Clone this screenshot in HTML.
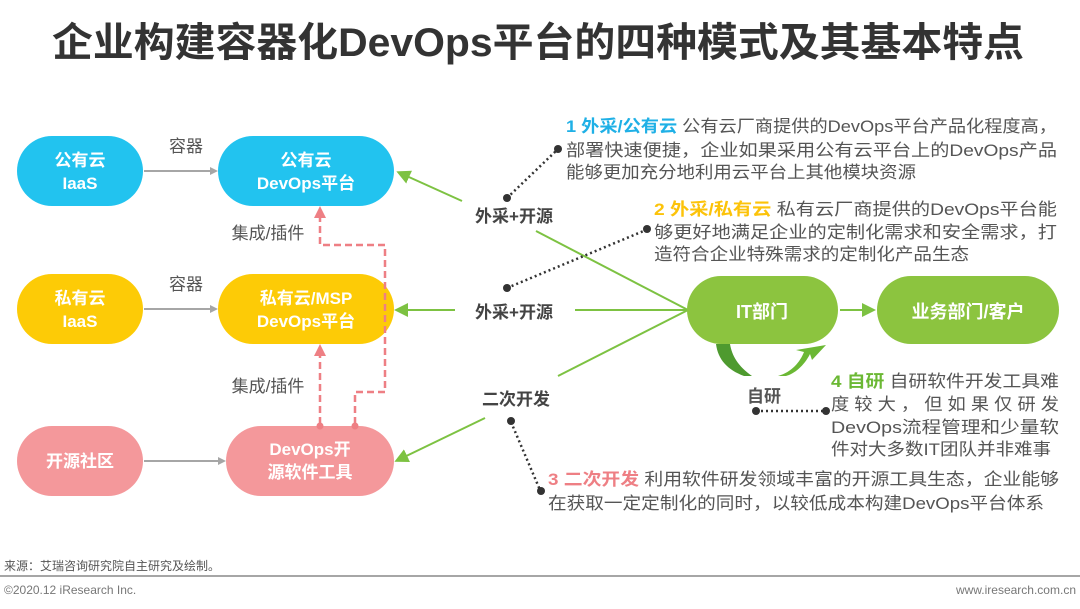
<!DOCTYPE html>
<html><head><meta charset="utf-8">
<style>
html,body{margin:0;padding:0;background:#fff;}
svg{display:block;}
text{font-family:"Liberation Sans","Noto Sans CJK SC",sans-serif;}
</style></head>
<body>
<svg width="1080" height="609" viewBox="0 0 1080 609" xmlns="http://www.w3.org/2000/svg">
<defs>
<marker id="ag" markerWidth="8" markerHeight="8" refX="6" refY="4" orient="auto" markerUnits="userSpaceOnUse"><path d="M0,0 L8,4 L0,8 z" fill="#a6a6a6"/></marker>
<marker id="agr" markerWidth="14" markerHeight="14" refX="10" refY="7" orient="auto" markerUnits="userSpaceOnUse"><path d="M0,0 L14,7 L0,14 z" fill="#7dc242"/></marker>
<marker id="ap" markerWidth="12" markerHeight="12" refX="8" refY="6" orient="auto" markerUnits="userSpaceOnUse"><path d="M0,0 L12,6 L0,12 z" fill="#ee7f84"/></marker>
</defs>
<!-- title -->
<text x="538" y="56" text-anchor="middle" font-size="40" font-weight="bold" fill="#333" textLength="972" lengthAdjust="spacingAndGlyphs">企业构建容器化DevOps平台的四种模式及其基本特点</text>

<!-- left boxes -->
<rect x="17" y="136" width="126" height="70" rx="35" fill="#22c3ef"/>
<text x="80" y="166" text-anchor="middle" font-size="17" font-weight="bold" fill="#fff">公有云</text>
<text x="80" y="189" text-anchor="middle" font-size="17" font-weight="bold" fill="#fff">IaaS</text>
<rect x="218" y="136" width="176" height="70" rx="35" fill="#22c3ef"/>
<text x="306" y="166" text-anchor="middle" font-size="17" font-weight="bold" fill="#fff">公有云</text>
<text x="306" y="189" text-anchor="middle" font-size="17" font-weight="bold" fill="#fff">DevOps平台</text>

<rect x="17" y="274" width="126" height="70" rx="35" fill="#fdcb06"/>
<text x="80" y="304" text-anchor="middle" font-size="17" font-weight="bold" fill="#fff">私有云</text>
<text x="80" y="327" text-anchor="middle" font-size="17" font-weight="bold" fill="#fff">IaaS</text>
<rect x="218" y="274" width="176" height="70" rx="35" fill="#fdcb06"/>
<text x="306" y="304" text-anchor="middle" font-size="17" font-weight="bold" fill="#fff">私有云/MSP</text>
<text x="306" y="327" text-anchor="middle" font-size="17" font-weight="bold" fill="#fff">DevOps平台</text>

<rect x="17" y="426" width="126" height="70" rx="35" fill="#f4989b"/>
<text x="80" y="467" text-anchor="middle" font-size="17" font-weight="bold" fill="#fff">开源社区</text>
<rect x="226" y="426" width="168" height="70" rx="35" fill="#f4989b"/>
<text x="310" y="455" text-anchor="middle" font-size="17" font-weight="bold" fill="#fff">DevOps开</text>
<text x="310" y="478" text-anchor="middle" font-size="17" font-weight="bold" fill="#fff">源软件工具</text>

<!-- grey arrows -->
<line x1="144" y1="171" x2="216" y2="171" stroke="#a6a6a6" stroke-width="2" marker-end="url(#ag)"/>
<line x1="144" y1="309" x2="216" y2="309" stroke="#a6a6a6" stroke-width="2" marker-end="url(#ag)"/>
<line x1="144" y1="461" x2="224" y2="461" stroke="#a6a6a6" stroke-width="2" marker-end="url(#ag)"/>
<text x="186" y="152" text-anchor="middle" font-size="17" fill="#555">容器</text>
<text x="186" y="290" text-anchor="middle" font-size="17" fill="#555">容器</text>

<!-- pink dashed -->
<path d="M320,424 L320,348" stroke="#ee7f84" stroke-width="2.5" stroke-dasharray="7,4" fill="none" marker-end="url(#ap)"/>
<path d="M355,424 L355,392 L385,392 L385,245 L320,245 L320,210" stroke="#ee7f84" stroke-width="2.5" stroke-dasharray="7,4" fill="none" marker-end="url(#ap)"/>
<circle cx="320" cy="426" r="3.5" fill="#ee7f84"/>
<circle cx="355" cy="426" r="3.5" fill="#ee7f84"/>
<text x="268" y="239" text-anchor="middle" font-size="17" fill="#555">集成/插件</text>
<text x="268" y="392" text-anchor="middle" font-size="17" fill="#555">集成/插件</text>

<!-- green lines -->
<line x1="462" y1="201" x2="400" y2="173" stroke="#7dc242" stroke-width="2" marker-end="url(#agr)"/>
<line x1="455" y1="310" x2="398" y2="310" stroke="#7dc242" stroke-width="2" marker-end="url(#agr)"/>
<line x1="485" y1="418" x2="398" y2="460" stroke="#7dc242" stroke-width="2" marker-end="url(#agr)"/>
<line x1="536" y1="231" x2="688" y2="310" stroke="#7dc242" stroke-width="2"/>
<line x1="575" y1="310" x2="688" y2="310" stroke="#7dc242" stroke-width="2"/>
<line x1="558" y1="376" x2="688" y2="310" stroke="#7dc242" stroke-width="2"/>

<text x="514" y="222" text-anchor="middle" font-size="17" font-weight="bold" fill="#444">外采+开源</text>
<text x="514" y="318" text-anchor="middle" font-size="17" font-weight="bold" fill="#444">外采+开源</text>
<text x="516" y="405" text-anchor="middle" font-size="17" font-weight="bold" fill="#444">二次开发</text>

<!-- IT boxes -->
<rect x="687" y="276" width="151" height="68" rx="34" fill="#8cc43f"/>
<text x="762" y="318" text-anchor="middle" font-size="18" font-weight="bold" fill="#fff">IT部门</text>
<rect x="877" y="276" width="182" height="68" rx="34" fill="#8cc43f"/>
<text x="968" y="318" text-anchor="middle" font-size="18" font-weight="bold" fill="#fff">业务部门/客户</text>
<line x1="840" y1="310" x2="872" y2="310" stroke="#7dc242" stroke-width="2" marker-end="url(#agr)"/>

<!-- curved arrows -->
<path d="M716,344 C718,360 728,370 744,376 L752,376 C738,366 732,356 730,344 Z" fill="#4e9a2f"/>
<path d="M778,376 C792,372 800,362 804,352 L796,350 L826,345 L812,360 L810,354 C804,366 794,374 786,376 Z" fill="#6bb834"/>
<text x="764" y="402" text-anchor="middle" font-size="17" font-weight="bold" fill="#555">自研</text>

<!-- dotted connectors -->
<g stroke="#333" stroke-width="2.5" stroke-dasharray="2,3" fill="none">
<line x1="507" y1="198" x2="557" y2="150"/>
<line x1="507" y1="288" x2="646" y2="230"/>
<line x1="511" y1="422" x2="540" y2="490"/>
<line x1="756" y1="411" x2="826" y2="411"/>
</g>
<g fill="#333">
<circle cx="507" cy="198" r="4"/><circle cx="558" cy="149" r="4"/>
<circle cx="507" cy="288" r="4"/><circle cx="647" cy="229" r="4"/>
<circle cx="511" cy="421" r="4"/><circle cx="541" cy="491" r="4"/>
<circle cx="756" cy="411" r="4"/><circle cx="826" cy="411" r="4"/>
</g>

<!-- text blocks -->
<g font-size="17" fill="#555">
<text x="566" y="132" textLength="491" lengthAdjust="spacingAndGlyphs"><tspan fill="#1fb0e6" font-weight="bold">1 外采/公有云</tspan> 公有云厂商提供的DevOps平台产品化程度高，</text>
<text x="566" y="156" textLength="491" lengthAdjust="spacingAndGlyphs">部署快速便捷，企业如果采用公有云平台上的DevOps产品</text>
<text x="566" y="178" textLength="350" lengthAdjust="spacingAndGlyphs">能够更加充分地利用云平台上其他模块资源</text>

<text x="654" y="215" textLength="403" lengthAdjust="spacingAndGlyphs"><tspan fill="#fcc30a" font-weight="bold">2 外采/私有云</tspan> 私有云厂商提供的DevOps平台能</text>
<text x="654" y="238" textLength="403" lengthAdjust="spacingAndGlyphs">够更好地满足企业的定制化需求和安全需求，打</text>
<text x="654" y="260" textLength="315" lengthAdjust="spacingAndGlyphs">造符合企业特殊需求的定制化产品生态</text>

<text x="831" y="387" textLength="228" lengthAdjust="spacingAndGlyphs"><tspan fill="#6bb834" font-weight="bold">4 自研</tspan> 自研软件开发工具难</text>
<text x="831" y="410" textLength="228" lengthAdjust="spacingAndGlyphs">度 较 大 ， 但 如 果 仅 研 发</text>
<text x="831" y="433" textLength="228" lengthAdjust="spacingAndGlyphs">DevOps流程管理和少量软</text>
<text x="831" y="455" textLength="220" lengthAdjust="spacingAndGlyphs">件对大多数IT团队并非难事</text>

<text x="548" y="485" textLength="511" lengthAdjust="spacingAndGlyphs"><tspan fill="#ee7f84" font-weight="bold">3 二次开发</tspan> 利用软件研发领域丰富的开源工具生态，企业能够</text>
<text x="548" y="509" textLength="496" lengthAdjust="spacingAndGlyphs">在获取一定定制化的同时，以较低成本构建DevOps平台体系</text>
</g>

<!-- footer -->
<text x="4" y="570" font-size="12" fill="#555">来源：艾瑞咨询研究院自主研究及绘制。</text>
<line x1="0" y1="576" x2="1080" y2="576" stroke="#888" stroke-width="1.5"/>
<text x="4" y="594" font-size="12" fill="#777">©2020.12 iResearch Inc.</text>
<text x="1076" y="594" font-size="12" fill="#777" text-anchor="end">www.iresearch.com.cn</text>
</svg>
</body></html>
